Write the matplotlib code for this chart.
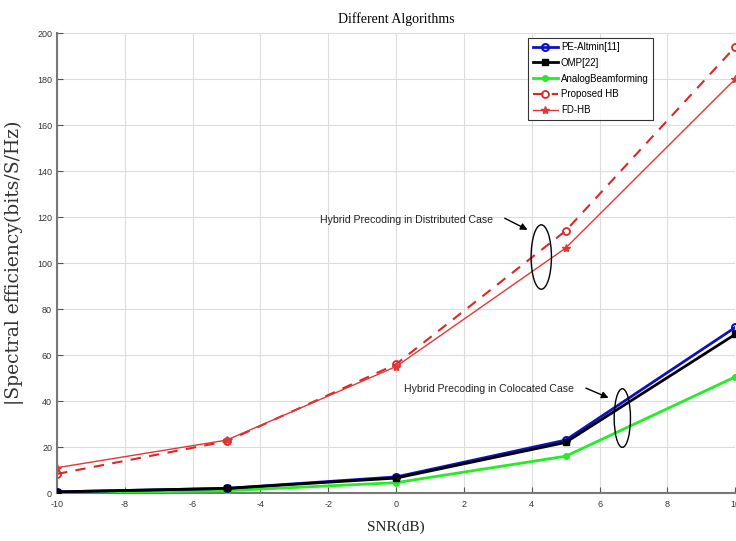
import matplotlib
matplotlib.use("Agg")
import matplotlib.pyplot as plt
from matplotlib.patches import Ellipse

plt.rcParams['axes.unicode_minus'] = False

snr = [-10, -5, 0, 5, 10]
pe_altmin = [0.5, 2.0, 7.0, 23.0, 72.0]
omp = [0.5, 2.0, 6.5, 22.0, 69.0]
analog_bf = [0.0, 1.0, 4.5, 16.0, 50.5]
proposed_hb = [8.3, 22.5, 56.0, 114.0, 194.0]
fd_hb = [11.0, 23.0, 55.0, 106.5, 180.0]

xticks = list(range(-10, 11, 2))
yticks = list(range(0, 201, 20))

narrow = ['Liberation Sans Narrow', 'Liberation Sans', 'DejaVu Sans']
serif = ['Liberation Serif', 'DejaVu Serif']

fig = plt.figure(figsize=(7.36, 5.41), dpi=100)
ax = fig.add_axes([0.0774, 0.0887, 0.9216, 0.8503])

ax.plot(snr, pe_altmin, color='#1010c0', lw=2.0, marker='o', ms=5,
        mfc='none', mew=1.5, label='PE-Altmin[11]', zorder=4)
ax.plot(snr, omp, color='black', lw=2.0, marker='s', ms=4, label='OMP[22]', zorder=5)
ax.plot(snr, analog_bf, color='#22ee22', lw=2.0, marker='o', ms=4, label='AnalogBeamforming', zorder=3)
ax.plot(snr, proposed_hb, color='#d82828', lw=1.5, ls=(0, (5, 4)), marker='o', ms=5,
        mfc='none', mew=1.3, label='Proposed HB')
ax.plot(snr, fd_hb, color='#e03838', lw=1.0, marker='*', ms=6, label='FD-HB')

ax.set_xlim(-10, 10)
ax.set_ylim(0, 200)
ax.set_xticks(xticks)
ax.set_yticks(yticks)
ax.grid(True, color='#dddddd', lw=0.8)
ax.tick_params(direction='in', length=4, labelsize=6.5, color='#555555', labelcolor='#333333')
ax.tick_params(axis='x', pad=5)
for lab in ax.get_xticklabels() + ax.get_yticklabels():
    lab.set_family(narrow)
ax.spines['top'].set_visible(False)
ax.spines['right'].set_visible(False)
ax.spines['left'].set_color('#777777')
ax.spines['bottom'].set_color('#777777')
ax.spines['left'].set_linewidth(1.5)
ax.spines['bottom'].set_linewidth(1.5)

ax.set_title('Different Algorithms', family=serif, fontsize=10, pad=7)
ax.set_xlabel('SNR(dB)', family=serif, fontsize=11, labelpad=8, color='#222222')
ax.set_ylabel('|Spectral efficiency(bits/S/Hz)', family='DejaVu Serif', fontsize=13.5,
              color='#333333')
ax.yaxis.set_label_coords(-0.049, 0.5)

leg = ax.legend(loc='upper left', bbox_to_anchor=(0.695, 0.99),
                prop={'family': narrow, 'size': 7}, frameon=True, fancybox=False,
                handlelength=2.6, borderpad=0.45, labelspacing=0.6, handletextpad=0.3,
                borderaxespad=0.0)
leg.get_frame().set_edgecolor('black')
leg.get_frame().set_linewidth(0.8)

# annotations
ax.add_patch(Ellipse((4.28, 102.6), 0.6, 28, fill=False, ec='black', lw=1.0, zorder=6))
ax.text(2.86, 118.7, 'Hybrid Precoding in Distributed Case', ha='right', va='center',
        fontsize=7.6, family=narrow, color='#222222')
ax.annotate('', xy=(3.95, 113.9), xytext=(3.13, 120),
            arrowprops=dict(arrowstyle='-|>', color='black', lw=1.0, mutation_scale=10))

ax.add_patch(Ellipse((6.67, 32.6), 0.48, 25.5, fill=False, ec='black', lw=1.0, zorder=6))
ax.text(5.25, 45.2, 'Hybrid Precoding in Colocated Case', ha='right', va='center',
        fontsize=7.6, family=narrow, color='#222222')
ax.annotate('', xy=(6.34, 40.9), xytext=(5.52, 46.1),
            arrowprops=dict(arrowstyle='-|>', color='black', lw=1.0, mutation_scale=10))

fig.savefig('out.png', dpi=100)
